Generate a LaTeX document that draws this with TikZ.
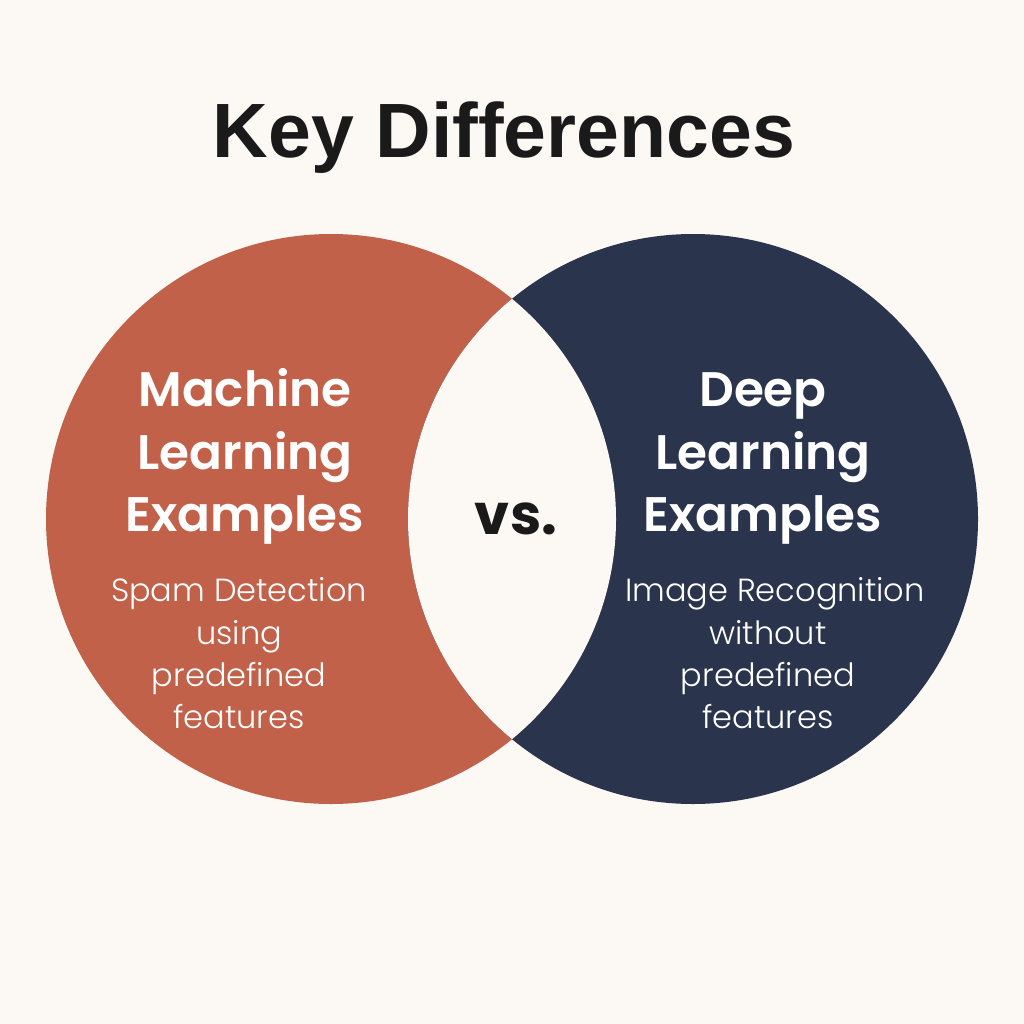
\documentclass[tikz,border=0pt]{standalone}
\usepackage{fontspec}
\setmainfont{Poppins}
\newfontfamily\titlefont{Liberation Sans}
\newfontfamily\headfont{Poppins SemiBold}
\newfontfamily\vsfont{Poppins Bold}
\newfontfamily\bodyfont{Poppins Light}
\definecolor{bg}{HTML}{FCF8F3}
\definecolor{mlorange}{HTML}{C2614A}
\definecolor{dlnavy}{HTML}{2B344D}
\definecolor{ink}{HTML}{1A1A1A}
\begin{document}
\begin{tikzpicture}[x=1pt,y=-1pt,
  heading/.style={anchor=base,text=white,inner sep=0pt,font=\headfont\fontsize{48.5}{48.5}\selectfont},
  body/.style={anchor=base,text=white,inner sep=0pt,font=\bodyfont\fontsize{32}{32}\selectfont}]
  % canvas
  \fill[bg] (0,0) rectangle (1024,1024);
  \useasboundingbox (0,0) rectangle (1024,1024);
  % the two sets
  \fill[mlorange] (331,519) circle (285);
  \fill[dlnavy] (693,519) circle (285);
  % shared lens left blank
  \begin{scope}
    \clip (331,519) circle (285);
    \fill[bg] (693,519) circle (285);
  \end{scope}
  % title
  \node[anchor=base,inner sep=0pt,text=ink,font=\titlefont\bfseries\fontsize{77}{77}\selectfont] (title) at (504,158) {Key Differences};
  % left set text
  \node[heading] (ml1) at (245,406) {Machine};
  \node[heading] (ml2) at (245,469) {Learning};
  \node[heading] (ml3) at (245,531) {Examples};
  \node[body] (mlb1) at (239,601) {Spam Detection};
  \node[body] (mlb2) at (239,644) {using};
  \node[body] (mlb3) at (239,686) {predefined};
  \node[body] (mlb4) at (239,728) {features};
  % middle
  \node[anchor=base,inner sep=0pt,text=ink,font=\vsfont\fontsize{56}{56}\selectfont] (vs) at (516,534) {vs.};
  % right set text
  \node[heading] (dl1) at (763,406) {Deep};
  \node[heading] (dl2) at (763,469) {Learning};
  \node[heading] (dl3) at (763,531) {Examples};
  \node[body] (dlb1) at (775,601) {Image Recognition};
  \node[body] (dlb2) at (768,644) {without};
  \node[body] (dlb3) at (768,686) {predefined};
  \node[body] (dlb4) at (768,728) {features};
\end{tikzpicture}
\end{document}
